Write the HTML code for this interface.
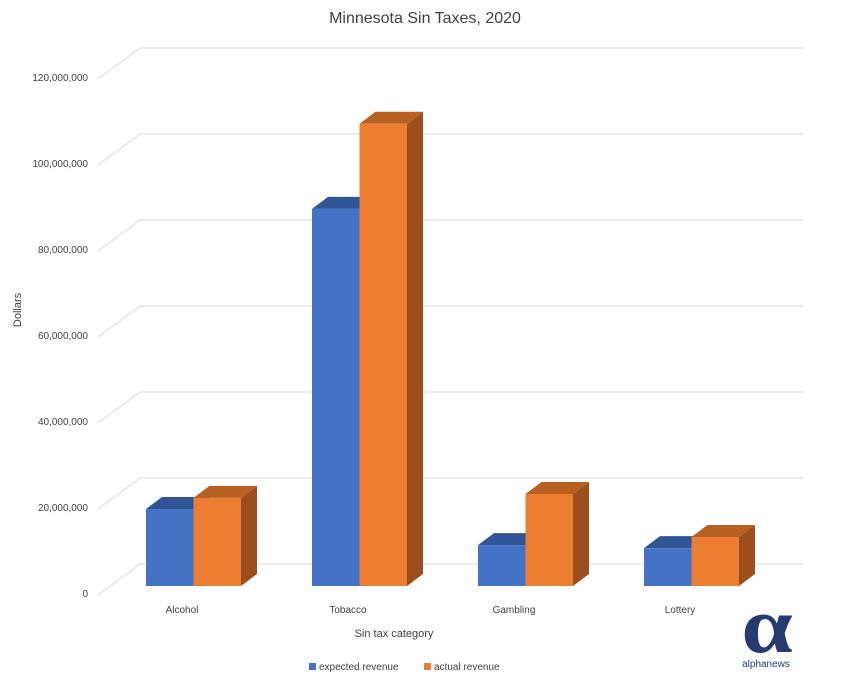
<!DOCTYPE html>
<html><head><meta charset="utf-8"><style>
body{margin:0;background:#fff;}
svg{display:block;font-family:"Liberation Sans",sans-serif;}
</style></head><body>
<svg id="chart" width="851" height="678" viewBox="0 0 851 678" xmlns="http://www.w3.org/2000/svg">
<text x="425" y="23" text-anchor="middle" font-size="16" fill="#404040">Minnesota Sin Taxes, 2020</text>
<g id="grid"></g>
<g id="ylabels"></g>
<g id="bars"></g>
<g id="xlabels"></g>
<text transform="translate(21,310) rotate(-90)" text-anchor="middle" font-size="11" fill="#404040">Dollars</text>
<text x="394" y="637" text-anchor="middle" font-size="11" fill="#404040">Sin tax category</text>
<g>
<rect x="309" y="663" width="7" height="7" fill="#4472c4"/>
<text x="319" y="670" font-size="10" fill="#404040">expected revenue</text>
<rect x="424" y="663" width="7" height="7" fill="#ed7d31"/>
<text x="434" y="670" font-size="10" fill="#404040">actual revenue</text>
</g>
<g>
<text transform="translate(767,652) scale(1.15,1)" text-anchor="middle" font-size="80" font-weight="bold" font-family="Liberation Serif,serif" fill="#253a6e">α</text>
<text x="766" y="667" text-anchor="middle" font-size="10" fill="#253a6e">alphanews</text>
</g>
</svg>
<script>
const categories=["Alcohol","Tobacco","Gambling","Lottery"];
const expected=[17900000,87700000,9500000,8800000];
const actual=[20500000,107500000,21400000,11400000];
const ticks=[0,20000000,40000000,60000000,80000000,100000000,120000000];
const NS="http://www.w3.org/2000/svg";
const y0=586,pxPer=86/20000000;
function yScale(v){return y0-v*pxPer;}
function xCat(i){return 146+i*166;}
const barW=47.5,ddx=16,ddy=-12;
function mk(t,a,p){const e=document.createElementNS(NS,t);for(const k in a)e.setAttribute(k,a[k]);p.appendChild(e);return e;}
const grid=document.getElementById('grid'),yl=document.getElementById('ylabels'),bars=document.getElementById('bars'),xl=document.getElementById('xlabels');
ticks.forEach((t,i)=>{
  const yf=yScale(t)+9, yb=yf-31;
  const g=mk('polyline',{points:`98,${yf} 140,${yb} 803,${yb}`,fill:'none',stroke:'#d9d9d9','stroke-width':1},grid);
  
  
  const lab=mk('text',{x:88,y:yf+2,'text-anchor':'end','font-size':10,fill:'#404040'},yl);
  lab.textContent=t.toLocaleString('en-US');
  
  
});
function bar(x,v,front,top,side,name){
  const yt=yScale(v),g=mk('g',{},bars);
  
  
  mk('polygon',{points:`${x+barW},${yt} ${x+barW+ddx},${yt+ddy} ${x+barW+ddx},${y0+ddy} ${x+barW},${y0}`,fill:side},g);
  mk('polygon',{points:`${x},${yt} ${x+ddx},${yt+ddy} ${x+barW+ddx},${yt+ddy} ${x+barW},${yt}`,fill:top},g);
  mk('rect',{x:x,y:yt,width:barW,height:y0-yt,fill:front},g);
}
categories.forEach((c,i)=>{
  const x=xCat(i);
  bar(x,expected[i],'#4472c4','#2f5597','#2f5597','bar-expected-'+c.toLowerCase());
  bar(x+barW,actual[i],'#ed7d31','#b85f22','#9c4f1c','bar-actual-'+c.toLowerCase());
  const t=mk('text',{x:x+36,y:613,'text-anchor':'middle','font-size':10,fill:'#404040'},xl);
  t.textContent=c;
  
  
});
</script>
</body></html>
